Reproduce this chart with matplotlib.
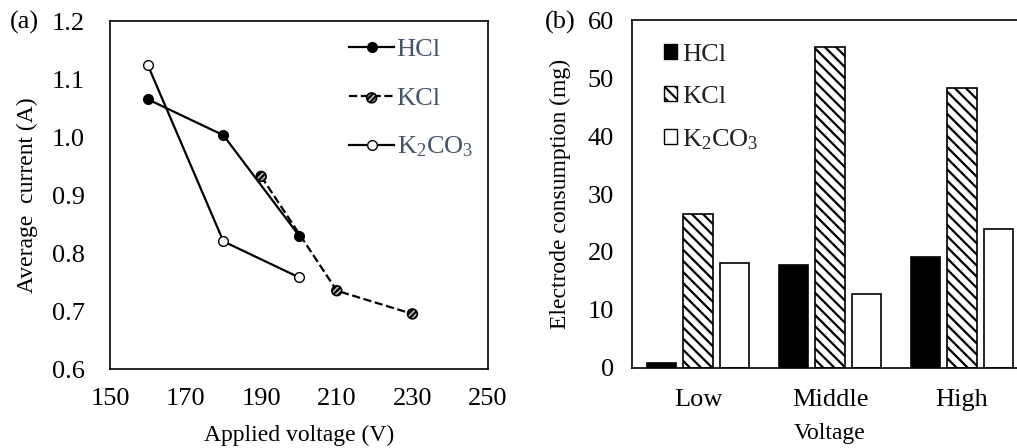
import numpy as np
import matplotlib.pyplot as plt
from matplotlib.lines import Line2D
from matplotlib.patches import Patch

plt.rcParams['font.family'] = ['Liberation Serif', 'DejaVu Serif']
plt.rcParams['mathtext.fontset'] = 'custom'
plt.rcParams['mathtext.rm'] = 'Liberation Serif'
plt.rcParams['hatch.linewidth'] = 1.6

# (a) average current vs applied voltage
hcl_v = [160, 180, 200]
hcl_i = [1.065, 1.003, 0.830]
kcl_v = [190, 210, 230]
kcl_i = [0.932, 0.735, 0.695]
k2co3_v = [160, 180, 200]
k2co3_i = [1.124, 0.820, 0.758]

# (b) electrode consumption
levels = ['Low', 'Middle', 'High']
hcl_mg = [0.8, 17.7, 19.1]
kcl_mg = [26.5, 55.4, 48.2]
k2co3_mg = [18.1, 12.7, 24.0]

k2co3_label = r'$\mathregular{K_{2}CO_{3}}$'

fig = plt.figure(figsize=(10.17, 4.48), dpi=100)
W, H = 1017, 448
ax1 = fig.add_axes([110 / W, 1 - 369 / H, 378 / W, 348 / H])
ax2 = fig.add_axes([632 / W, 1 - 368 / H, 396 / W, 348 / H])

fs = 19
lfs = 17

# left panel
ax1.plot(hcl_v, hcl_i, '-', color='black', lw=1.6, marker='o', ms=7,
         mfc='black', mec='black', zorder=3)
ax1.plot(kcl_v, kcl_i, '--', color='black', lw=1.6, zorder=2)
kcl_pts = ax1.scatter(kcl_v, kcl_i, s=50, facecolor='#bbbbbb', edgecolor='black',
                      hatch='//////', linewidth=1.2, zorder=4)
ax1.plot(k2co3_v, k2co3_i, '-', color='black', lw=1.6, marker='o', ms=7,
         mfc='white', mec='black', zorder=3)

ax1.set_xlim(150, 250)
ax1.set_ylim(0.6, 1.2)
ax1.set_xticks(np.arange(150, 251, 20))
ax1.set_yticks(np.arange(0.6, 1.21, 0.1))
ax1.set_yticklabels([f'{v:.1f}' for v in np.arange(0.6, 1.21, 0.1)])
ax1.tick_params(axis='x', length=0, labelsize=fs, pad=14)
ax1.tick_params(axis='y', length=0, labelsize=fs, pad=18)
ax1.set_xlabel('Applied voltage (V)', fontsize=lfs, labelpad=10)
ax1.set_ylabel('Average  current (A)', fontsize=lfs, labelpad=10)
for s in ax1.spines.values():
    s.set_linewidth(1.2)

h1 = Line2D([], [], color='black', lw=1.6, marker='o', ms=7, mfc='black', mec='black')
h2 = Line2D([], [], color='black', lw=1.6, ls='--')
h3 = Line2D([], [], color='black', lw=1.6, marker='o', ms=7, mfc='white', mec='black')
ax1.legend([h1, (h2, kcl_pts), h3], ['HCl', 'KCl', k2co3_label],
           loc='upper left', bbox_to_anchor=(0.57, 1.02), frameon=False,
           fontsize=fs, labelspacing=0.95, handlelength=1.7,
           handletextpad=0.1, labelcolor='#44546A')
fig.text(10 / W, 1 - 22 / H, '(a)', fontsize=fs, va='center', ha='left')

# right panel
x = np.arange(len(levels))
w = 0.22
off = 0.275
ax2.bar(x - off, hcl_mg, w, color='black', edgecolor='black', lw=1.2)
ax2.bar(x, kcl_mg, w, color='white', edgecolor='black', lw=1.2, hatch='\\\\\\')
ax2.bar(x + off, k2co3_mg, w, color='white', edgecolor='black', lw=1.2)
ax2.set_xlim(-0.5, 2.5)
ax2.set_ylim(0, 60)
ax2.set_xticks(x)
ax2.set_xticklabels(levels)
ax2.set_yticks(np.arange(0, 61, 10))
ax2.tick_params(axis='x', length=0, labelsize=fs, pad=15)
ax2.tick_params(axis='y', length=0, labelsize=fs, pad=13)
ax2.set_xlabel('Voltage', fontsize=lfs, labelpad=9)
ax2.set_ylabel('Electrode consumption (mg)', fontsize=lfs, labelpad=12)
for s in ax2.spines.values():
    s.set_linewidth(1.2)

p1 = Patch(facecolor='black', edgecolor='black')
p2 = Patch(facecolor='white', edgecolor='black', hatch='\\\\\\')
p3 = Patch(facecolor='white', edgecolor='black')
ax2.legend([p1, p2, p3], ['HCl', 'KCl', k2co3_label], loc='upper left',
           bbox_to_anchor=(0.02, 1.0), frameon=False, fontsize=fs,
           labelspacing=0.75, handlelength=0.5, handleheight=0.5,
           handletextpad=0.2, labelcolor='#222222')
fig.text(545 / W, 1 - 22 / H, '(b)', fontsize=fs, va='center', ha='left')

fig.savefig('out.png', dpi=100)
